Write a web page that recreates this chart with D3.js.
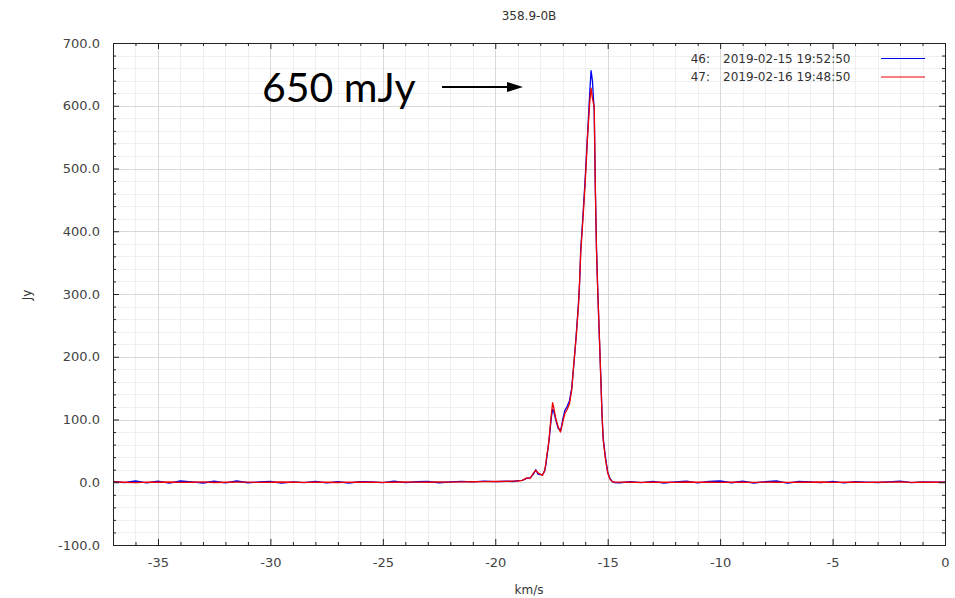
<!DOCTYPE html>
<meta charset="utf-8">
<head>
  <title>358.9-0B</title>
</head>

<style>

  body {
    margin: 0;
    background: white;
  }

  text {
    font-family: "DejaVu Sans", sans-serif;
    fill: #333;
  }

  .tick text {
    font-size: 13px;
    fill: #444;
  }

  .grid-minor line {
    stroke: #efefef;
  }

  .grid-major line {
    stroke: #d9d9d9;
  }

</style>

<body>

  <script src="https://d3js.org/d3.v7.min.js"></script>
  <div id="chart"></div>
  <script>

  // velocity grid (km/s), shared by both scans
  var velocityLow = [-37.0, -36.5, -36.0, -35.5, -35.0, -34.5, -34.0, -33.5, -33.0, -32.5,
    -32.0, -31.5, -31.0, -30.5, -30.0, -29.5, -29.0, -28.5, -28.0, -27.5,
    -27.0, -26.5, -26.0, -25.5, -25.0, -24.5, -24.0, -23.5, -23.0, -22.5,
    -22.0, -21.5, -21.0, -20.5, -20.0, -19.5];

  var velocityLine = [-19.2, -19.0, -18.8, -18.6, -18.45, -18.3, -18.2, -18.1, -18.0, -17.9,
    -17.8, -17.75, -17.7, -17.65, -17.6, -17.55, -17.5, -17.45, -17.4, -17.3,
    -17.2, -17.1, -17.05, -17.0, -16.9, -16.8, -16.7, -16.6, -16.5, -16.4,
    -16.3, -16.25, -16.2, -16.1, -16.0, -15.9, -15.8, -15.74, -15.68, -15.6,
    -15.55, -15.5, -15.45, -15.4, -15.35, -15.3, -15.25, -15.2, -15.1, -15.0,
    -14.9, -14.8, -14.7];

  var velocityHigh = [-14.5, -14.0, -13.5, -13.0, -12.5, -12.0, -11.5, -11.0, -10.5, -10.0,
    -9.5, -9.0, -8.5, -8.0, -7.5, -7.0, -6.5, -6.0, -5.5, -5.0,
    -4.5, -4.0, -3.5, -3.0, -2.5, -2.0, -1.5, -1.0, -0.5, 0.0];

  // flux density (Jy), scan 46
  var flux46Low = [1.5, -0.5, 2, -1, 1.8, -1.5, 2, 0.5, -1.2, 1.6,
    -1, 2, -0.8, 0.5, 1.2, -1.5, 0.6, -0.5, 1.5, -1,
    0.8, -1.2, 1, 0.4, -0.6, 1.8, -0.5, 0.8, 1.5, -0.8,
    0.6, 1.4, 0.6, 1.8, 0.9, 1.6];
  var flux46Line = [1.2, 2.5, 3, 6, 7, 13, 20, 13, 12, 12,
    18, 28, 42, 55, 70, 88, 105, 116, 113, 98,
    86, 82, 90, 100, 115, 121, 130, 150, 190, 235,
    285, 318, 370, 425, 485, 552, 620, 656, 640, 592,
    468, 375, 315, 260, 210, 160, 106, 70, 40, 16,
    6, 1.5, -0.5];
  var flux46High = [-1, 0.8, -0.5, 1.5, -1.2, 0.6, 1.8, -1, 1.4, 2,
    -0.8, 1.6, -1.2, 0.8, 2, -1.4, 1.2, 0.4, -0.6, 1.5,
    -1, 0.8, 0.2, -0.4, 0.6, 1.8, -0.5, 0.4, 0.2, 0];

  // flux density (Jy), scan 47
  var flux47Low = [0.5, 0, -0.5, 0.3, 0, 0.4, -0.3, 0, 0.5, -0.4,
    0, 0.3, 0.2, -0.3, 0, 0.4, 0, -0.2, 0.3, 0,
    -0.4, 0.2, 0, 0.3, -0.2, 0, 0.4, 0.2, 0, 0.5,
    0.3, 0.6, 0.8, 1.0, 1.2, 1.5];
  var flux47Line = [1.8, 2, 3, 7, 6, 15, 19, 15, 13, 11,
    19, 30, 45, 55, 72, 92, 110, 127, 119, 100,
    88, 80, 88, 96, 110, 116, 125, 147, 192, 232,
    282, 320, 365, 420, 478, 548, 605, 628, 612, 598,
    470, 372, 312, 263, 212, 157, 104, 67, 37, 15,
    5, 1, 0.3];
  var flux47High = [0.2, 0, -0.3, 0.3, 0, -0.2, 0.4, 0, 0.3, -0.3,
    0, 0.2, -0.2, 0.3, 0, -0.3, 0.2, 0, 0.4, -0.2,
    0, 0.3, -0.3, 0, 0.2, 0.5, -0.2, 0, 0.3, 0];

  var xMajorTicks = [-35, -30, -25, -20, -15, -10, -5, 0];
  var yMajorTicks = [-100, 0, 100, 200, 300, 400, 500, 600, 700];

  var scanLabels = ["46:", "47:"];
  var scanTimes = ["2019-02-15 19:52:50", "2019-02-16 19:48:50"];
  var scanColors = ["#0000ee", "#ee0000"];

  var velocity = velocityLow.concat(velocityLine, velocityHigh);
  var series = [
    flux46Low.concat(flux46Line, flux46High),
    flux47Low.concat(flux47Line, flux47High)
  ];

  var width = 955, height = 598;
  var plotLeft = 113, plotRight = 945, plotTop = 43, plotBottom = 545;

  var x = d3.scaleLinear().domain([-37, 0]).range([plotLeft, plotRight]);
  var y = d3.scaleLinear().domain([-100, 700]).range([plotBottom, plotTop]);

  var xMinorTicks = d3.range(-36, 0).filter(function(d) { return d % 5 !== 0; });
  var yMinorTicks = d3.range(-80, 700, 20).filter(function(d) { return d % 100 !== 0; });

  var svg = d3.select("#chart")
    .append("svg")
    .attr("width", width)
    .attr("height", height);

  // grid
  svg.append("g").attr("class", "grid-minor")
    .selectAll(null).data(xMinorTicks).enter().append("line")
    .attr("x1", function(d) { return Math.round(x(d)) + 0.5; })
    .attr("x2", function(d) { return Math.round(x(d)) + 0.5; })
    .attr("y1", plotTop).attr("y2", plotBottom);

  svg.append("g").attr("class", "grid-minor")
    .selectAll(null).data(yMinorTicks).enter().append("line")
    .attr("y1", function(d) { return Math.round(y(d)) + 0.5; })
    .attr("y2", function(d) { return Math.round(y(d)) + 0.5; })
    .attr("x1", plotLeft).attr("x2", plotRight);

  svg.append("g").attr("class", "grid-major")
    .selectAll(null).data(xMajorTicks).enter().append("line")
    .attr("x1", function(d) { return Math.round(x(d)) + 0.5; })
    .attr("x2", function(d) { return Math.round(x(d)) + 0.5; })
    .attr("y1", plotTop).attr("y2", plotBottom);

  svg.append("g").attr("class", "grid-major")
    .selectAll(null).data(yMajorTicks).enter().append("line")
    .attr("y1", function(d) { return Math.round(y(d)) + 0.5; })
    .attr("y2", function(d) { return Math.round(y(d)) + 0.5; })
    .attr("x1", plotLeft).attr("x2", plotRight);

  // spectra, scan 47 drawn on top
  var line = d3.line()
    .x(function(d, i) { return x(velocity[i]); })
    .y(function(d) { return y(d); });

  svg.append("g")
    .selectAll(null)
    .data(series)
    .enter()
    .append("path")
    .attr("fill", "none")
    .attr("stroke", function(d, i) { return scanColors[i]; })
    .attr("stroke-width", 1.3)
    .attr("stroke-linejoin", "round")
    .attr("d", line);

  // axes, ticks pointing inward
  function drawAxis(axisFn, scale, transform, major, minor, fmt) {
    var g = svg.append("g").attr("transform", transform);
    g.call(axisFn(scale).tickValues(minor).tickSize(-3).tickFormat(""));
    g.append("g").call(axisFn(scale).tickValues(major).tickSize(-6).tickPadding(13).tickFormat(fmt));
    g.selectAll(".domain").remove();
    g.selectAll("line").attr("stroke", "#222");
    return g;
  }

  var xFmt = function(d) { return String(d); };
  var yFmt = function(d) { return d.toFixed(1); };

  drawAxis(d3.axisBottom, x, "translate(0," + plotBottom + ")", xMajorTicks, xMinorTicks, xFmt);
  drawAxis(d3.axisTop, x, "translate(0," + plotTop + ")", xMajorTicks, xMinorTicks, "")
    .selectAll("text").remove();
  drawAxis(d3.axisLeft, y, "translate(" + plotLeft + ",0)", yMajorTicks, yMinorTicks, yFmt);
  drawAxis(d3.axisRight, y, "translate(" + plotRight + ",0)", yMajorTicks, yMinorTicks, "")
    .selectAll("text").remove();

  svg.append("rect")
    .attr("x", plotLeft + 0.5).attr("y", plotTop + 0.5)
    .attr("width", plotRight - plotLeft).attr("height", plotBottom - plotTop)
    .attr("fill", "none")
    .attr("stroke", "#222");

  // title and axis labels
  svg.append("text")
    .attr("x", (plotLeft + plotRight) / 2).attr("y", 20)
    .attr("text-anchor", "middle")
    .style("font-size", "12px")
    .text("358.9-0B");

  svg.append("text")
    .attr("x", (plotLeft + plotRight) / 2).attr("y", 594)
    .attr("text-anchor", "middle")
    .style("font-size", "12px")
    .text("km/s");

  svg.append("text")
    .attr("transform", "translate(31,295) rotate(-90)")
    .attr("text-anchor", "middle")
    .style("font-size", "12px")
    .text("Jy");

  // legend
  var legend = svg.append("g")
    .selectAll(null)
    .data(scanLabels)
    .enter()
    .append("g")
    .attr("transform", function(d, i) { return "translate(0," + (58 + i * 18.5) + ")"; });

  legend.append("text")
    .attr("x", 710).attr("y", 4.5)
    .attr("text-anchor", "end")
    .style("font-size", "12px")
    .text(function(d) { return d; });

  legend.append("text")
    .attr("x", 723).attr("y", 4.5)
    .style("font-size", "12px")
    .text(function(d, i) { return scanTimes[i]; });

  legend.append("line")
    .attr("x1", 881).attr("x2", 925)
    .attr("y1", 0.5).attr("y2", 0.5)
    .attr("stroke", function(d, i) { return scanColors[i]; })
    .attr("stroke-width", 1.2);

  // annotation
  svg.append("text")
    .attr("x", 262).attr("y", 102)
    .style("font-family", "Lato, sans-serif")
    .style("font-size", "41px")
    .style("fill", "#000")
    .text("650 mJy");

  svg.append("line")
    .attr("x1", 442).attr("x2", 510)
    .attr("y1", 87).attr("y2", 87)
    .attr("stroke", "#000")
    .attr("stroke-width", 2);

  svg.append("path")
    .attr("d", "M523,87 L507,82 L507,92 Z")
    .attr("fill", "#000");

</script>
</body>
</html>
